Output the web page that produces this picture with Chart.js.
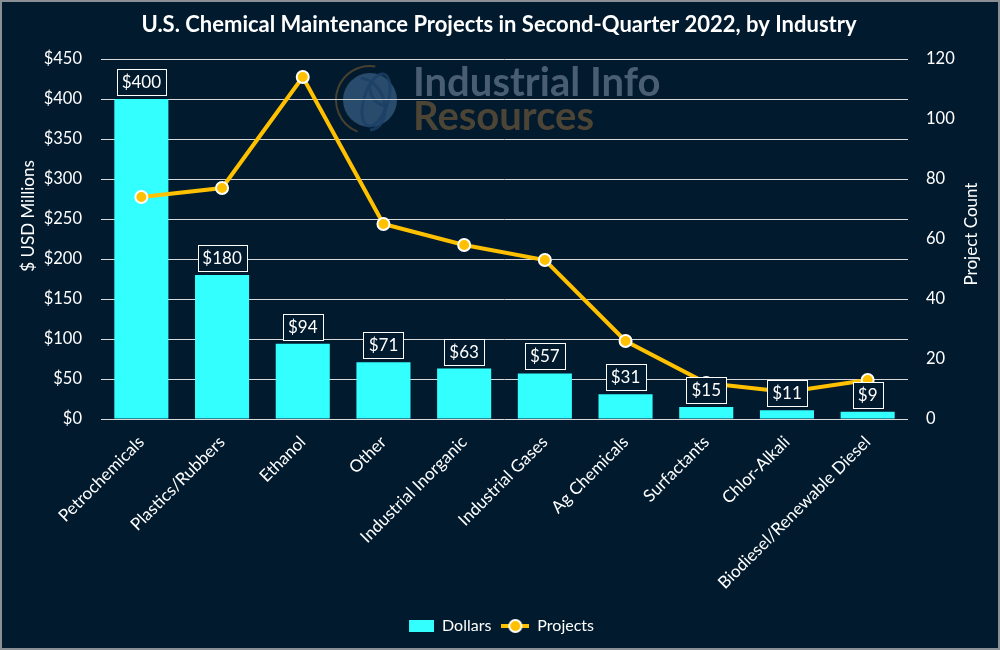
<!DOCTYPE html>
<html>
<head>
<meta charset="utf-8">
<script src="https://cdn.jsdelivr.net/npm/chart.js@4.4.1/dist/chart.umd.min.js"></script>
<style>
  html, body { margin: 0; padding: 0; background: #021a2e; }
  #wrap { width: 1000px; height: 650px; position: relative; }
</style>
</head>
<body>
<div id="wrap"><canvas id="chart"></canvas></div>
<script>
const categories = ["Petrochemicals", "Plastics/Rubbers", "Ethanol", "Other", "Industrial Inorganic",
    "Industrial Gases", "Ag Chemicals", "Surfactants", "Chlor-Alkali", "Biodiesel/Renewable Diesel"];
const dollars = [400, 180, 94, 71, 63, 57, 31, 15, 11, 9];
const projects = [74, 77, 114, 65, 58, 53, 26, 12, 9, 13];
const dollarTicks = { max: 450, step: 50 };
const projectTicks = { max: 120, step: 20 };

const BG = "#021a2e";
const CYAN = "#33ffff";
const GOLD = "#ffc000";
const FONT = "Lato";

Chart.defaults.font.family = FONT;
Chart.defaults.color = "#ffffff";

// small legend markers
function makeMarker(kind) {
    const c = document.createElement("canvas");
    c.width = 28; c.height = 16;
    const g = c.getContext("2d");
    if (kind === "bar") {
        g.fillStyle = CYAN;
        g.fillRect(3, 2, 25, 12);
    } else {
        g.strokeStyle = GOLD; g.lineWidth = 4;
        g.beginPath(); g.moveTo(0, 8); g.lineTo(28, 8); g.stroke();
        g.beginPath(); g.arc(14, 8, 6, 0, Math.PI * 2);
        g.fillStyle = GOLD; g.fill();
        g.lineWidth = 2; g.strokeStyle = "#fff"; g.stroke();
    }
    return c;
}
const markers = [makeMarker("bar"), makeMarker("line")];

const backdrop = {
    id: "backdrop",
    beforeDraw(chart) {
        const ctx = chart.ctx;
        ctx.save();
        ctx.fillStyle = BG;
        ctx.fillRect(0, 0, chart.width, chart.height);

        // watermark logo
        ctx.globalAlpha = 0.8;
        ctx.beginPath();
        ctx.arc(370, 100, 27, 0, Math.PI * 2);
        ctx.fillStyle = "#33597c";
        ctx.fill();
        ctx.strokeStyle = "#1c4066";
        ctx.lineWidth = 3;
        ctx.beginPath(); ctx.ellipse(376, 100, 12, 27, 0.3, 0, Math.PI * 2); ctx.stroke();
        ctx.beginPath(); ctx.ellipse(364, 104, 20, 27, -0.4, -1.2, 1.8); ctx.stroke();
        ctx.beginPath(); ctx.arc(388, 88, 18, 1.6, 3.4); ctx.stroke();
        ctx.strokeStyle = "#5a4a30";
        ctx.lineWidth = 2;
        ctx.beginPath(); ctx.arc(370, 100, 34, Math.PI * 0.62, Math.PI * 1.55); ctx.stroke();
        ctx.globalAlpha = 1;
        ctx.font = "bold 40px " + FONT;
        ctx.textBaseline = "alphabetic";
        ctx.textAlign = "left";
        ctx.fillStyle = "#4a5e71";
        ctx.fillText("Industrial Info", 413, 96);
        ctx.fillStyle = "#4c4434";
        ctx.fillText("Resources", 413, 130);
        ctx.restore();
    },
    afterDraw(chart) {
        const ctx = chart.ctx;
        ctx.save();
        ctx.fillStyle = "#ffffff";
        ctx.textAlign = "center";
        ctx.textBaseline = "middle";
        ctx.font = "bold 22px " + FONT;
        ctx.fillText("U.S. Chemical Maintenance Projects in Second-Quarter 2022, by Industry", 499, 25);

        ctx.font = "17px " + FONT;
        ctx.translate(29, 216);
        ctx.rotate(-Math.PI / 2);
        ctx.fillText("$ USD Millions", 0, 0);
        ctx.restore();

        ctx.save();
        ctx.fillStyle = "#ffffff";
        ctx.textAlign = "center";
        ctx.textBaseline = "middle";
        ctx.font = "17px " + FONT;
        ctx.translate(972, 234);
        ctx.rotate(-Math.PI / 2);
        ctx.fillText("Project Count", 0, 0);
        ctx.restore();

        ctx.save();
        ctx.strokeStyle = "#8a8f96";
        ctx.lineWidth = 2;
        ctx.strokeRect(1, 1, chart.width - 2, chart.height - 2);
        ctx.restore();
    }
};

const valueBoxes = {
    id: "valueBoxes",
    afterDatasetsDraw(chart) {
        const ctx = chart.ctx;
        const meta = chart.getDatasetMeta(0);
        ctx.save();
        ctx.font = "17px " + FONT;
        ctx.textAlign = "center";
        ctx.textBaseline = "middle";
        meta.data.forEach((bar, i) => {
            const txt = "$" + dollars[i];
            const w = Math.round(ctx.measureText(txt).width + 10);
            const h = 26;
            const x = Math.round(bar.x - w / 2);
            const y = Math.round(bar.y - 4 - h);
            ctx.fillStyle = BG;
            ctx.fillRect(x, y, w, h);
            ctx.strokeStyle = "#ffffff";
            ctx.lineWidth = 1;
            ctx.strokeRect(x + 0.5, y + 0.5, w, h);
            ctx.fillStyle = "#ffffff";
            ctx.fillText(txt, bar.x, y + h / 2 + 1);
        });
        ctx.restore();
    }
};

new Chart(document.getElementById("chart"), {
    type: "bar",
    data: {
        labels: categories,
        datasets: [{
            label: "Dollars",
            data: dollars,
            backgroundColor: CYAN,
            barPercentage: 0.67,
            categoryPercentage: 1,
            yAxisID: "y",
            order: 2
        }, {
            type: "line",
            label: "Projects",
            data: projects,
            borderColor: GOLD,
            borderWidth: 4,
            pointRadius: 6,
            pointBackgroundColor: GOLD,
            pointBorderColor: "#ffffff",
            pointBorderWidth: 2,
            tension: 0,
            yAxisID: "y1",
            order: 1
        }]
    },
    options: {
        responsive: true,
        maintainAspectRatio: false,
        animation: false,
        layout: { padding: { top: 59, bottom: 6, left: 0, right: 0 } },
        plugins: {
            title: { display: false },
            tooltip: { enabled: false },
            legend: {
                position: "bottom",
                labels: {
                    color: "#ffffff",
                    font: { size: 16 },
                    usePointStyle: true,
                    pointStyleWidth: 28,
                    padding: 10,
                    sort: (a, b) => a.datasetIndex - b.datasetIndex,
                    generateLabels(chart) {
                        const items = Chart.defaults.plugins.legend.labels.generateLabels(chart);
                        items.forEach(it => { it.pointStyle = markers[it.datasetIndex]; });
                        return items;
                    }
                }
            }
        },
        scales: {
            x: {
                grid: { display: false },
                border: { display: false },
                ticks: { color: "#ffffff", font: { size: 17 }, minRotation: 45, maxRotation: 45, padding: 5 },
                afterFit(scale) { scale.height = 189; }
            },
            y: {
                position: "left",
                min: 0,
                max: dollarTicks.max,
                grid: { color: "#d9d9d9", lineWidth: 1, drawTicks: false },
                border: { display: false },
                ticks: {
                    stepSize: dollarTicks.step,
                    color: "#ffffff",
                    font: { size: 16.5 },
                    padding: 19,
                    callback: v => "$" + v
                },
                afterFit(scale) { scale.width = 101; }
            },
            y1: {
                position: "right",
                min: 0,
                max: projectTicks.max,
                grid: { display: false, drawTicks: false },
                border: { display: false },
                ticks: { stepSize: projectTicks.step, color: "#ffffff", font: { size: 16.5 }, padding: 18 },
                afterFit(scale) { scale.width = 92; }
            }
        }
    },
    plugins: [backdrop, valueBoxes]
});
</script>
</body>
</html>
